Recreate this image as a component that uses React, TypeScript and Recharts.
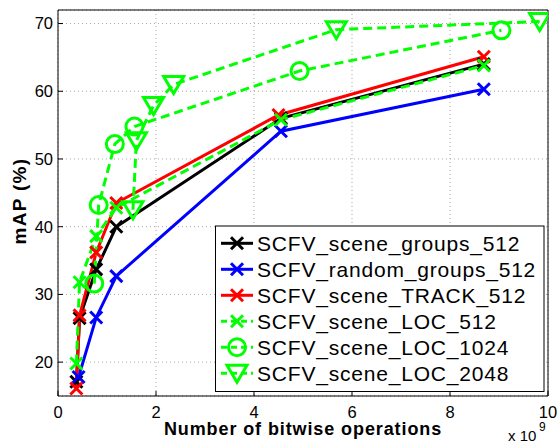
import React from "react";
import { LineChart, Line, XAxis, YAxis, CartesianGrid } from "recharts";

const xTicks = [0, 2, 4, 6, 8, 10];
const yTicks = [20, 30, 40, 50, 60, 70];

// x values in units of 10^9 bitwise operations, y = mAP (%)
const sceneGroupsX = [0.375, 0.44, 0.78, 1.19, 4.55, 8.69];
const sceneGroupsY = [17.1, 26.5, 33.7, 40.0, 56.0, 64.0];
const randomGroupsX = [0.42, 0.78, 1.19, 4.55, 8.69];
const randomGroupsY = [17.8, 26.6, 32.7, 54.1, 60.3];
const trackX = [0.375, 0.44, 0.78, 1.19, 4.5, 8.69];
const trackY = [16.1, 26.9, 36.2, 43.5, 56.5, 65.1];
const loc512X = [0.375, 0.44, 0.78, 1.19, 4.55, 8.69];
const loc512Y = [19.8, 31.8, 38.6, 42.8, 55.8, 63.8];
const loc1024X = [0.74, 0.83, 1.16, 1.56, 4.93, 9.05];
const loc1024Y = [31.6, 43.2, 52.2, 54.8, 63.0, 69.0];
const loc2048X = [1.53, 1.6, 1.95, 2.36, 5.68, 9.83];
const loc2048Y = [42.5, 52.7, 57.9, 61.0, 69.1, 70.3];

const toPoints = (xs: number[], ys: number[]) => xs.map((x, i) => ({ x, y: ys[i] }));

type MarkerKind = "x" | "o" | "v";

const series = [
  { name: "SCFV_scene_groups_512", color: "#000000", dashed: false, marker: "x" as MarkerKind, data: toPoints(sceneGroupsX, sceneGroupsY) },
  { name: "SCFV_random_groups_512", color: "#0000ff", dashed: false, marker: "x" as MarkerKind, data: toPoints(randomGroupsX, randomGroupsY) },
  { name: "SCFV_scene_TRACK_512", color: "#ff0000", dashed: false, marker: "x" as MarkerKind, data: toPoints(trackX, trackY) },
  { name: "SCFV_scene_LOC_512", color: "#00ff00", dashed: true, marker: "x" as MarkerKind, data: toPoints(loc512X, loc512Y) },
  { name: "SCFV_scene_LOC_1024", color: "#00ff00", dashed: true, marker: "o" as MarkerKind, data: toPoints(loc1024X, loc1024Y) },
  { name: "SCFV_scene_LOC_2048", color: "#00ff00", dashed: true, marker: "v" as MarkerKind, data: toPoints(loc2048X, loc2048Y) },
];

const FONT = "'Liberation Sans', Arial, Helvetica, sans-serif";

function Marker({ kind, cx, cy, color }: { kind: MarkerKind; cx: number; cy: number; color: string }) {
  if (kind === "o") {
    return <circle cx={cx} cy={cy} r={8.5} fill="none" stroke={color} strokeWidth={3} />;
  }
  if (kind === "v") {
    return (
      <polygon
        points={`${cx - 10},${cy - 8} ${cx + 10},${cy - 8} ${cx},${cy + 9}`}
        fill="none"
        stroke={color}
        strokeWidth={3}
        strokeLinejoin="miter"
      />
    );
  }
  const s = 6;
  return (
    <g stroke={color} strokeWidth={3}>
      <line x1={cx - s} y1={cy - s} x2={cx + s} y2={cy + s} />
      <line x1={cx - s} y1={cy + s} x2={cx + s} y2={cy - s} />
    </g>
  );
}

export default function App() {
  return (
    <div style={{ position: "absolute", left: 0, top: 0, width: 560, height: 442, fontFamily: FONT, background: "#fff" }}>
      <LineChart width={560} height={442} margin={{ top: 9, right: 11, left: 0, bottom: 16 }}>
        <CartesianGrid stroke="#a8a8a8" strokeDasharray="1 3" />
        <XAxis
          dataKey="x"
          type="number"
          domain={[0, 10]}
          ticks={xTicks}
          height={30}
          tickSize={-5}
          tickMargin={15}
          tick={{ fontSize: 16.5, fill: "#000" }}
          axisLine={{ stroke: "#000" }}
          tickLine={{ stroke: "#000" }}
          allowDataOverflow
        />
        <XAxis
          xAxisId="top"
          orientation="top"
          type="number"
          domain={[0, 10]}
          ticks={xTicks}
          height={1}
          tickSize={-5}
          tick={false}
          axisLine={{ stroke: "#000" }}
          tickLine={{ stroke: "#000" }}
        />
        <YAxis
          type="number"
          domain={[15, 72]}
          ticks={yTicks}
          width={58}
          tickSize={-5}
          tickMargin={10}
          tick={{ fontSize: 16.5, fill: "#000" }}
          axisLine={{ stroke: "#000" }}
          tickLine={{ stroke: "#000" }}
          allowDataOverflow
        />
        <YAxis
          yAxisId="right"
          orientation="right"
          type="number"
          domain={[15, 72]}
          ticks={yTicks}
          width={1}
          tickSize={-5}
          tick={false}
          axisLine={{ stroke: "#000" }}
          tickLine={{ stroke: "#000" }}
        />
        {series.map((s) => (
          <Line
            key={s.name}
            data={s.data}
            dataKey="y"
            type="linear"
            stroke={s.color}
            strokeWidth={3}
            strokeDasharray={s.dashed ? "9 5" : undefined}
            isAnimationActive={false}
            activeDot={false}
            legendType="none"
            dot={(p: any) => (
              <Marker key={`${s.name}-${p.index}`} kind={s.marker} cx={p.cx} cy={p.cy} color={s.color} />
            )}
          />
        ))}
      </LineChart>

      <svg
        width={560}
        height={442}
        style={{ position: "absolute", left: 0, top: 0, pointerEvents: "none", overflow: "visible" }}
      >
        {/* legend */}
        <rect x={215.5} y={226} width={328.5} height={165.5} fill="#fff" stroke="#000" strokeWidth={1} />
        {series.map((s, i) => {
          const cy = 243.3 + i * 26;
          return (
            <g key={s.name}>
              <line
                x1={221}
                y1={cy}
                x2={253}
                y2={cy}
                stroke={s.color}
                strokeWidth={3}
                strokeDasharray={s.dashed ? "6 4" : undefined}
              />
              <Marker kind={s.marker} cx={237} cy={cy} color={s.color} />
              <text x={257} y={cy + 7.5} fontSize={21} letterSpacing={0.8} fill="#000" fontFamily={FONT}>
                {s.name}
              </text>
            </g>
          );
        })}

        {/* axis titles */}
        <text
          x={303}
          y={435}
          textAnchor="middle"
          fontSize={18}
          fontWeight="bold"
          letterSpacing={0.9}
          fill="#000"
          fontFamily={FONT}
        >
          Number of bitwise operations
        </text>
        <text
          transform="translate(26,201) rotate(-90)"
          textAnchor="middle"
          fontSize={19}
          fontWeight="bold"
          letterSpacing={1.3}
          fill="#000"
          fontFamily={FONT}
        >
          mAP (%)
        </text>
        <text x={508} y={440.5} fontSize={15} fill="#000" fontFamily={FONT}>
          x 10
        </text>
        <text x={539} y={430.5} fontSize={12} fill="#000" fontFamily={FONT}>
          9
        </text>
      </svg>
    </div>
  );
}
